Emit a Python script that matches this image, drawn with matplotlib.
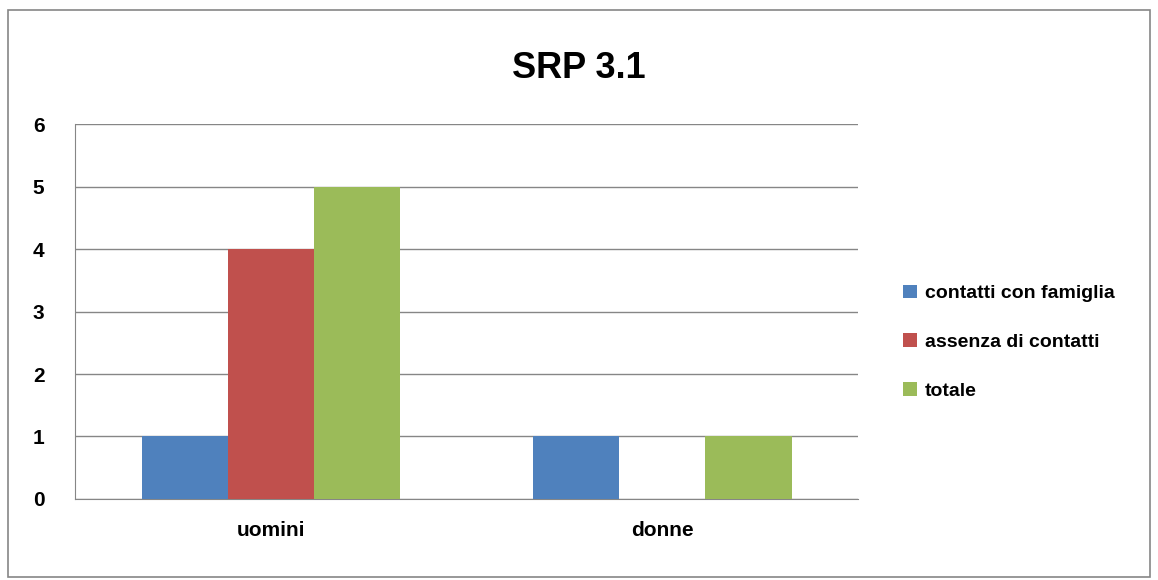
import matplotlib
matplotlib.use("Agg")
import matplotlib.pyplot as plt
import numpy as np

plt.rcParams['font.family'] = ['Liberation Sans Narrow', 'Liberation Sans', 'DejaVu Sans']

categories = ["uomini", "donne"]
series_names = ["contatti con famiglia", "assenza di contatti", "totale"]
contatti = [1, 1]
assenza = [4, 0]
totale = [5, 1]
colors = ["#4F81BD", "#C0504D", "#9BBB59"]

fig = plt.figure(figsize=(11.58, 5.8), dpi=100)
ax = fig.add_axes([0.0648, 0.1397, 0.741 - 0.0648, 0.786 - 0.1397])

x = np.arange(len(categories))
w = 0.22
for i, (vals, name, c) in enumerate(zip([contatti, assenza, totale], series_names, colors)):
    ax.bar(x + (i - 1) * w, vals, width=w, color=c, label=name, zorder=3)

ax.set_xlim(-0.5, 1.5)
ax.set_ylim(0, 6)
ax.set_yticks(range(0, 7))
ax.yaxis.grid(True, color="#868686", linewidth=1, zorder=0)
ax.set_xticks(x)
ax.set_xticklabels(categories, fontsize=15, fontweight="bold")
for lbl in ax.get_yticklabels():
    lbl.set_fontsize(15)
    lbl.set_fontweight("bold")
ax.tick_params(axis="x", length=0, pad=16)
ax.tick_params(axis="y", length=0, pad=22)
for s in ["top", "right"]:
    ax.spines[s].set_visible(False)
ax.spines["left"].set_color("#868686")
ax.spines["bottom"].set_color("#868686")

fig.text(0.5, 0.882, "SRP 3.1", ha="center", va="center", fontsize=26, fontweight="bold")

leg = fig.legend(loc="center left", bbox_to_anchor=(0.765, 0.41), frameon=False,
                 prop={"size": 14, "weight": "bold"}, handlelength=0.7, handleheight=0.7,
                 labelspacing=1.6, handletextpad=0.4)

border = plt.Rectangle((0.007, 0.005), 0.986, 0.978, transform=fig.transFigure,
                       fill=False, edgecolor="#868686", linewidth=1.2)
fig.add_artist(border)

fig.savefig("out.png", dpi=100)
